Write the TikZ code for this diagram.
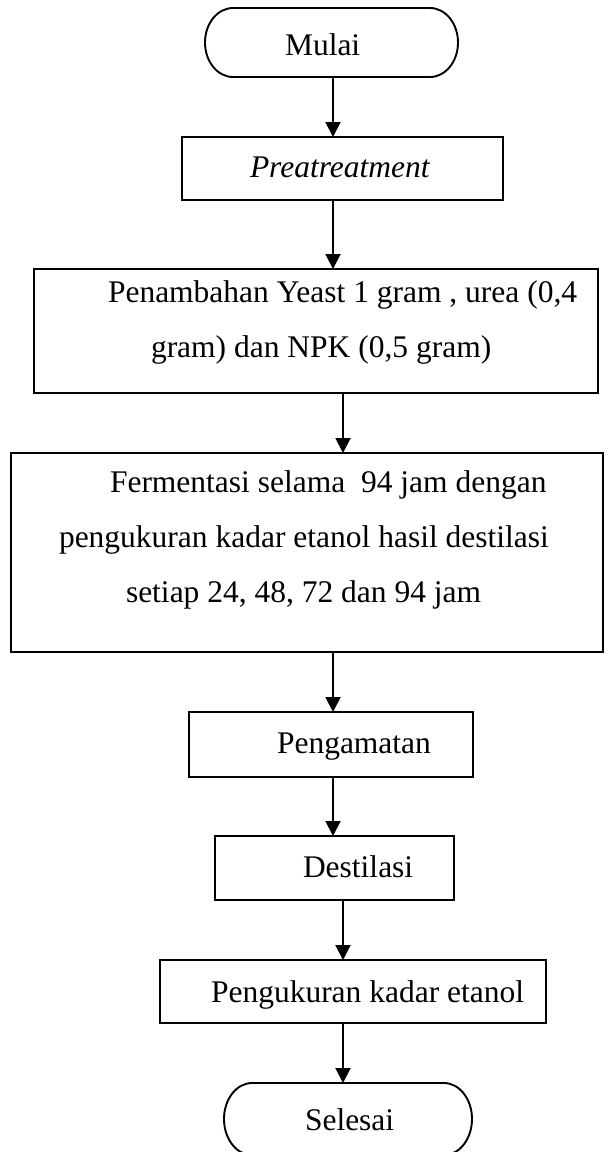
\documentclass[tikz,border=0pt]{standalone}
\usepackage{fontspec}
\setmainfont{Liberation Serif}
\usetikzlibrary{arrows.meta}
\begin{document}
\begin{tikzpicture}[x=1pt,y=-1pt,
  every node/.style={inner sep=0pt, outer sep=0pt},
  boxnode/.style={draw, line width=1.9pt, rectangle},
  termnode/.style={rectangle},
  termline/.style={line width=1.9pt},
  txt/.style={font=\fontsize{31.5}{38}\selectfont, anchor=base west},
  arr/.style={line width=1.9pt, -{Triangle[length=15pt,width=15pt]}}]
\useasboundingbox (0,0) rectangle (608,1152);
\clip (0,0) rectangle (608,1152);
% axes for connectors
\coordinate (ax1) at (333,0);
\coordinate (ax2) at (343,0);
% terminal: Mulai
\node[termnode, minimum width=253pt, minimum height=69pt] (m) at (331.5,42.5) {};
\draw[termline] ([xshift=28pt]m.north west) -- ([xshift=-28pt]m.north east)
  arc[start angle=90, end angle=-90, x radius=28pt, y radius=34.5pt]
  -- ([xshift=28pt]m.south west)
  arc[start angle=270, end angle=90, x radius=28pt, y radius=34.5pt] -- cycle;
\node[txt] (tm) at (285,55) {Mulai};
% Preatreatment
\node[boxnode, minimum width=321pt, minimum height=63pt] (p) at (342.5,168.5) {};
\node[txt] (tp) at (250,177) {\itshape Preatreatment};
% box 3
\node[boxnode, minimum width=564pt, minimum height=124pt] (b3) at (316,331) {};
\node[txt] (t3a) at (108,302) {Penambahan Yeast 1 gram , urea (0,4};
\node[txt] (t3b) at (151,357) {gram) dan NPK (0,5 gram)};
% box 4
\node[boxnode, minimum width=592pt, minimum height=199pt] (b4) at (307,552.5) {};
\node[txt] (t4a) at (110,492) {Fermentasi selama~~94 jam dengan};
\node[txt] (t4b) at (59,547) {pengukuran kadar etanol hasil destilasi};
\node[txt] (t4c) at (126,602) {setiap 24, 48, 72 dan 94 jam};
% Pengamatan
\node[boxnode, minimum width=284pt, minimum height=65pt] (pg) at (331,744.5) {};
\node[txt] (tpg) at (277,753) {Pengamatan};
% Destilasi
\node[boxnode, minimum width=239pt, minimum height=64pt] (d) at (334.5,868) {};
\node[txt] (td) at (303,877) {Destilasi};
% Pengukuran
\node[boxnode, minimum width=386pt, minimum height=63pt] (k) at (353,991.5) {};
\node[txt] (tk) at (211,1002) {Pengukuran kadar etanol};
% terminal: Selesai
\node[termnode, minimum width=248pt, minimum height=72pt] (s) at (348,1119) {};
\draw[termline] ([xshift=28pt]s.north west) -- ([xshift=-28pt]s.north east)
  arc[start angle=90, end angle=-90, x radius=28pt, y radius=36pt]
  -- ([xshift=28pt]s.south west)
  arc[start angle=270, end angle=90, x radius=28pt, y radius=36pt] -- cycle;
\node[txt] (ts) at (305,1130) {Selesai};
% connectors
\draw[arr] (m.south -| ax1) -- (p.north -| ax1);
\draw[arr] (p.south -| ax1) -- (b3.north -| ax1);
\draw[arr] (b3.south -| ax2) -- (b4.north -| ax2);
\draw[arr] (b4.south -| ax1) -- (pg.north -| ax1);
\draw[arr] (pg.south -| ax1) -- (d.north -| ax1);
\draw[arr] (d.south -| ax2) -- (k.north -| ax2);
\draw[arr] (k.south -| ax2) -- (s.north -| ax2);
\end{tikzpicture}
\end{document}
